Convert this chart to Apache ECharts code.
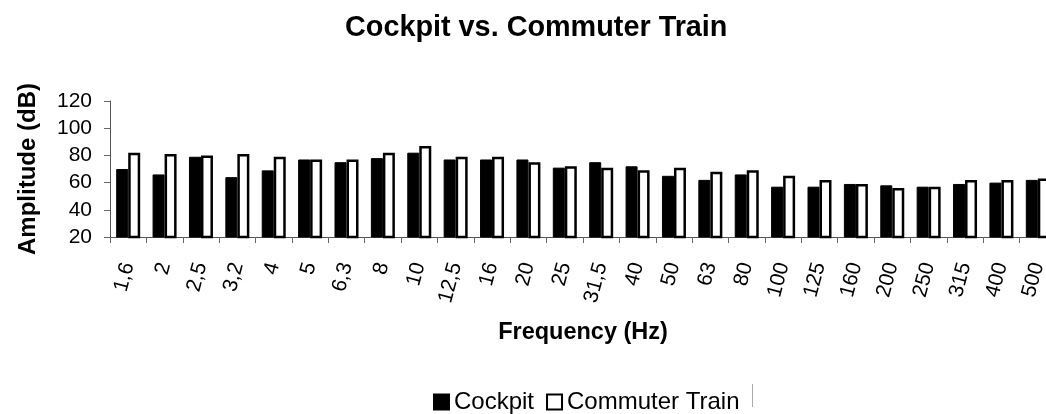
<!DOCTYPE html>
<html>
<head>
<meta charset="utf-8">
<script src="https://cdn.jsdelivr.net/npm/echarts@6/dist/echarts.min.js"></script>
<style>
html,body{margin:0;padding:0;background:#fff;}
#chart{width:1046px;height:414px;}
</style>
</head>
<body>
<div id="chart"></div>
<script>
const categories = ['1,6','2','2,5','3,2','4','5','6,3','8','10','12,5','16','20','25','31,5','40','50','63','80','100','125','160','200','250','315','400','500'];
const cockpit = [70, 66, 79, 64, 69, 77, 75, 78, 82, 77, 77, 77, 71, 75, 72, 65, 62, 66, 57, 57, 59, 58, 57, 59, 60, 62];
const commuter = [82, 81, 80, 81, 79, 77, 77, 82, 87, 79, 79, 75, 72, 71, 69, 71, 68, 69, 65, 62, 59, 56, 57, 62, 62, 63];
const yTicks = [20, 40, 60, 80, 100, 120];

const font = 'Liberation Sans, Arial, sans-serif';
const chart = echarts.init(document.getElementById('chart'), null, {renderer: 'canvas'});
chart.setOption({
  animation: false,
  backgroundColor: '#fff',
  title: {
    text: 'Cockpit vs. Commuter Train',
    left: 340,
    top: 9,
    textStyle: {fontFamily: font, fontSize: 28.8, fontWeight: 'bold', color: '#000'}
  },
  legend: {
    data: ['Cockpit', 'Commuter Train'],
    left: 428,
    top: 385,
    icon: 'rect',
    itemWidth: 15,
    itemHeight: 15,
    itemGap: 12,
    textStyle: {fontFamily: font, fontSize: 24, color: '#000'}
  },
  graphic: [{
    type: 'line',
    shape: {x1: 752.5, y1: 384, x2: 752.5, y2: 407},
    style: {stroke: '#aaa', lineWidth: 1}
  }],
  grid: {left: 110, width: 946, top: 101, height: 136, containLabel: false, outerBoundsMode: 'none'},
  xAxis: {
    type: 'category',
    data: categories,
    name: 'Frequency (Hz)',
    nameLocation: 'middle',
    nameGap: 84,
    nameTextStyle: {fontFamily: font, fontSize: 23.5, fontWeight: 'bold', color: '#000'},
    axisLine: {lineStyle: {color: '#555', width: 1}},
    axisTick: {show: true, alignWithLabel: false, length: 6, lineStyle: {color: '#666'}},
    axisLabel: {rotate: 75, margin: 26, fontFamily: font, fontSize: 21, color: '#000', interval: 0}
  },
  yAxis: {
    type: 'value',
    min: yTicks[0],
    max: yTicks[yTicks.length - 1],
    interval: 20,
    name: 'Amplitude (dB)',
    nameLocation: 'middle',
    nameGap: 70,
    nameTextStyle: {fontFamily: font, fontSize: 24, fontWeight: 'bold', color: '#000'},
    axisLine: {show: true, lineStyle: {color: '#555', width: 1}},
    axisTick: {show: true, length: 6, lineStyle: {color: '#666'}},
    splitLine: {show: false},
    axisLabel: {margin: 18, fontFamily: font, fontSize: 21, color: '#000'}
  },
  series: [
    {
      name: 'Cockpit',
      type: 'bar',
      data: cockpit,
      barWidth: 12,
      barGap: '0%',
      itemStyle: {color: '#000', borderColor: '#000', borderWidth: 1}
    },
    {
      name: 'Commuter Train',
      type: 'bar',
      data: commuter,
      barWidth: 12,
      barGap: '0%',
      itemStyle: {color: '#fff', borderColor: '#000', borderWidth: 2.5}
    }
  ]
});
</script>
</body>
</html>
